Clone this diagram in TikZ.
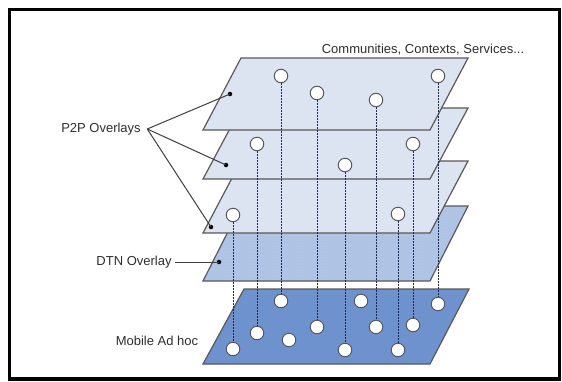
\documentclass[tikz,border=0pt]{standalone}
\usepackage{fontspec}
\setmainfont{Liberation Sans}
\usepackage{tikz}
\usetikzlibrary{calc,patterns,positioning}
\definecolor{p2pblue}{RGB}{221,228,241}
\definecolor{dtnblue}{RGB}{170,192,228}
\definecolor{mobblue}{RGB}{110,146,206}
\definecolor{edgegray}{RGB}{88,88,88}
\definecolor{linknavy}{RGB}{30,40,85}
\definecolor{txtgray}{RGB}{45,45,45}

\begin{document}
\begin{tikzpicture}[x=1pt,y=-1pt,
    layer/.style={draw=edgegray,line width=1.2pt,line join=miter},
    host/.style={draw=edgegray,shape=circle,fill=white,minimum size=13.5pt,line width=1pt,inner sep=0},
    pin/.style={shape=circle,fill=black,minimum size=4.5pt,inner sep=0},
    lbl/.style={text=txtgray,font=\fontsize{13}{15}\selectfont},
    vlink/.style={linknavy,line width=0.8pt,dash pattern=on 1.8pt off 1.2pt},
    callout/.style={edgegray!70!black,line width=1pt}]
      \useasboundingbox (0,0) rectangle (562,381);
      % frame
      \draw[line width=3.5pt] (9.5,9.5) rectangle (559.5,379);
      % the layers, bottom one first
      \fill[layer,fill=mobblue] (203,364) -- (244,289) -- (469,289) -- (430,364) -- cycle;
      \fill[dtnblue] (203,281) -- (241,206) -- (468,206) -- (430,281) -- cycle;
      \fill[pattern=crosshatch,pattern color=white,opacity=.12] (203,281) -- (241,206) -- (468,206) -- (430,281) -- cycle;
      \draw[layer] (203,281) -- (241,206) -- (468,206) -- (430,281) -- cycle;
      \draw[layer,fill=p2pblue] (203,233) -- (241,161) -- (468,161) -- (430,233) -- cycle;
      \draw[layer,fill=p2pblue] (203,179) -- (241,108) -- (468,108) -- (430,179) -- cycle;
      \draw[layer,fill=p2pblue] (203,130) -- (241,58) -- (468,58) -- (430,130) -- cycle;
      % hosts of the P2P overlays
      \node[host] (pa1) at (281,76) {};
      \node[host] (pa2) at (317,93) {};
      \node[host] (pa3) at (376,100) {};
      \node[host] (pa4) at (438,76) {};
      \node[host] (pb1) at (257,144) {};
      \node[host] (pb2) at (345,165) {};
      \node[host] (pb3) at (413,144) {};
      \node[host] (pc1) at (233,215) {};
      \node[host] (pc2) at (398,214) {};
      % mobile nodes
      \node[host] (m1) at (233,349) {};
      \node[host] (m2) at (257,333) {};
      \node[host] (m3) at (281,301) {};
      \node[host] (m4) at (289,340) {};
      \node[host] (m5) at (317,327) {};
      \node[host] (m6) at (345,350) {};
      \node[host] (m7) at (361,301) {};
      \node[host] (m8) at (376,327) {};
      \node[host] (m9) at (398,350) {};
      \node[host] (m10) at (413,325) {};
      \node[host] (m11) at (438,304) {};
      % dashed mappings down to the mobile nodes
      \draw[vlink] (pc1) -- (m1);
      \draw[vlink] (pb1) -- (m2);
      \draw[vlink] (pa1) -- (m3);
      \draw[vlink] (pa2) -- (m5);
      \draw[vlink] (pb2) -- (m6);
      \draw[vlink] (pa3) -- (m8);
      \draw[vlink] (pc2) -- (m9);
      \draw[vlink] (pb3) -- (m10);
      \draw[vlink] (pa4) -- (m11);
      % labels
      \node[lbl] (comm) at (423,50) {Communities, Contexts, Services...};
      \node[lbl] (p2p) at (101,129) {P2P Overlays};
      \node[lbl] (dtn) at (134,262) {DTN Overlay};
      \node[lbl] (mob) at (157,341) {Mobile Ad hoc};
      % pins on the layers
      \node[pin] (dotA) at (230,94) {};
      \node[pin] (dotB) at (226,165) {};
      \node[pin] (dotC) at (211,227) {};
      \node[pin] (dotD) at (219,262) {};
      \draw[callout] ([xshift=3pt]p2p.east) -- (dotA.center);
      \draw[callout] ([xshift=3pt]p2p.east) -- (dotB.center);
      \draw[callout] ([xshift=3pt]p2p.east) -- (dotC.center);
      \draw[callout] (dtn.east) -- (dotD.center);
    \end{tikzpicture}
\end{document}
